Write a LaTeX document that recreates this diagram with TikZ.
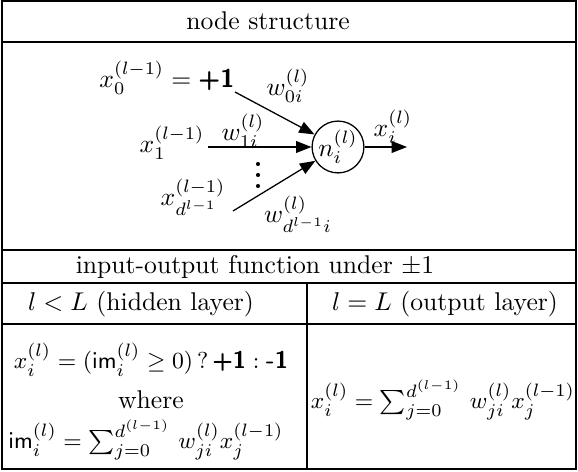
\documentclass[tikz,border=0pt]{standalone}
\usepackage{amsmath,amssymb}
\usetikzlibrary{positioning,arrows.meta,calc}
\newcommand{\bone}[1]{\textsf{\textbf{#1}}}

\begin{document}
\begin{tikzpicture}[x=0.39pt,y=-0.39pt,>={Triangle[length=6pt,width=4.6pt]},
  rule/.style={line width=0.6pt},
  wire/.style={->,line width=0.5pt},
  neuron/.style={draw,circle,line width=0.5pt,minimum size=17.2pt,inner sep=0pt},
  formula/.style={font=\fontsize{9.4}{11}\selectfont}]
\useasboundingbox (0,0) rectangle (578,472);
% table frame
\draw[rule] (2,1) rectangle (576,469);
\foreach \y in {42,250,283,324}{
  \draw[rule] (2,\y) -- (576,\y);
}
\draw[rule] (307,283) -- (307,469);
% headers
\node (hnode) at (268,21) {node structure};
\node (hfun) at (255,267) {input-output function under $\pm1$};
\node (hhid) at (141,304) {$l<L$ (hidden layer)};
\node (hout) at (445,304) {$l=L$ (output layer)};
% neuron
\node[neuron] (n) at (338,147) {$n_i^{(l)}$};
\node (x0) at (167,78) {$x_0^{(l-1)}=\bone{+1}$};
\node (x1) at (172,143) {$x_1^{(l-1)}$};
\node (xd) at (193,197) {$x_{d^{l-1}}^{(l-1)}$};
\coordinate (s0) at (235,92);
\coordinate (s1) at (208,147);
\coordinate (sd) at (233,211);
\coordinate (out) at (407,147);
\draw[wire] (s0) -- (n);
\draw[wire] (s1) -- (n);
\draw[wire] (sd) -- (n);
\draw[wire] (n) -- (out);
\node (w0) at (288,86) {$w_{0i}^{(l)}$};
\node (w1) at (243,131) {$w_{1i}^{(l)}$};
\node (wd) at (298,214) {$w_{d^{l-1}i}^{(l)}$};
\node (xo) at (393,127) {$x_i^{(l)}$};
% vertical dots
\foreach \k in {0,1,2}{
  \fill (258,164+11*\k) circle (0.8pt);
}
% formulas
\node[formula] (fhid) at (151,360) {$x_i^{(l)}=(\mathsf{im}_i^{(l)}\geq 0)\,?\,\bone{+1}:\bone{-1}$};
\node (fwhere) at (151,400) {where};
\node[formula] (fim) at (146,440) {$\mathsf{im}_i^{(l)}=\sum_{j=0}^{d^{(l-1)}}\,w_{ji}^{(l)}x_j^{(l-1)}$};
\node[formula] (fout) at (443,400) {$x_i^{(l)}=\sum_{j=0}^{d^{(l-1)}}\,w_{ji}^{(l)}x_j^{(l-1)}$};
\end{tikzpicture}
\end{document}
